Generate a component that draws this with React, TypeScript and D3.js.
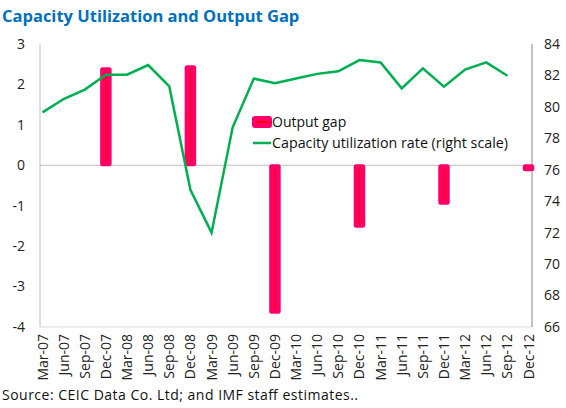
import React from "react";
import * as d3 from "d3";

const categories = ["Mar-07","Jun-07","Sep-07","Dec-07","Mar-08","Jun-08","Sep-08","Dec-08","Mar-09","Jun-09","Sep-09","Dec-09","Mar-10","Jun-10","Sep-10","Dec-10","Mar-11","Jun-11","Sep-11","Dec-11","Mar-12","Jun-12","Sep-12","Dec-12"];
const capacityUtil: (number | null)[] = [79.65,80.5,81.1,82.05,82.05,82.66,81.3,74.73,72.0,78.7,81.8,81.5,81.8,82.1,82.26,82.98,82.83,81.18,82.45,81.29,82.37,82.83,81.98,null];
const outputGap: (number | null)[] = [null,null,null,2.4,null,null,null,2.45,null,null,null,-3.65,null,null,null,-1.52,null,null,null,-0.95,null,null,null,-0.12];
const leftTicks = [3,2,1,0,-1,-2,-3,-4];
const rightTicks = [84,82,80,78,76,74,72,70,68,66];

const W = 566, H = 408;
const PL = 40, PR = 532, PT = 44, PB = 327;
const FONT = "'Open Sans', 'DejaVu Sans', sans-serif";

export default function App() {
  const x = d3.scalePoint<string>().domain(categories).range([42.5, 528.5]);
  const yL = d3.scaleLinear().domain([-4, 3]).range([PB, PT]);
  const yR = d3.scaleLinear().domain([66, 84]).range([PB, PT]);
  const line = d3.line<number | null>()
    .defined(d => d != null)
    .x((_, i) => x(categories[i])!)
    .y(d => yR(d as number));
  const barW = 11.5;
  return (
    <svg width={W} height={H} style={{ position: "absolute", left: 0, top: 0, display: "block", background: "#fff" }}>
      <text x={2} y={22} fill="#0070C0" fontWeight="bold" fontSize={16.5} fontFamily={FONT}>Capacity Utilization and Output Gap</text>
      {/* frame */}
      <line x1={PL} x2={PL} y1={PT} y2={PB} stroke="#BFBFBF" />
      <line x1={PL} x2={PR} y1={PB} y2={PB} stroke="#D9D9D9" />
      <line x1={PR} x2={PR} y1={PT} y2={PB} stroke="#868686" />
      <line x1={PL} x2={PR} y1={yL(0)} y2={yL(0)} stroke="#BFBFBF" />
      {/* left ticks */}
      {leftTicks.map(t => (
        <text key={"l" + t} x={25} y={yL(t)} dy="0.35em" textAnchor="end" fontSize={14} fontFamily={FONT} fill="#222">{t}</text>
      ))}
      {rightTicks.map(t => (
        <text key={"r" + t} x={544} y={yR(t)} dy="0.35em" textAnchor="start" fontSize={14} fontFamily={FONT} fill="#222">{t}</text>
      ))}
      {categories.map(c => (
        <text key={c} transform={`translate(${x(c)! + 5},${PB + 7}) rotate(-90)`} textAnchor="end" fontSize={14} fontFamily={FONT} fill="#222">{c}</text>
      ))}
      {/* bars */}
      {outputGap.map((v, i) => {
        if (v == null) return null;
        const cx = x(categories[i])!;
        const y0 = Math.min(yL(0), yL(v));
        const y1 = Math.max(yL(0), yL(v));
        return (
          <g key={"b" + i}>
            <rect x={cx - barW / 2} y={y0 - 1} width={barW} height={y1 - y0 + 2} rx={2.5} fill="#FF0066" />
            {y1 - y0 > 8 && <line x1={cx} x2={cx} y1={y0 + 3} y2={y1 - 3} stroke="#FF0000" strokeWidth={1.2} />}
          </g>
        );
      })}
      <path d={line(capacityUtil) || ""} fill="none" stroke="#00B050" strokeWidth={2.5} strokeLinejoin="miter" />
      {/* legend */}
      <rect x={252} y={116} width={20} height={12} rx={3} fill="#FF0066" />
      <line x1={256} x2={268} y1={122} y2={122} stroke="#FF0000" strokeWidth={2} />
      <text x={272} y={127} fontSize={14} fontFamily={FONT} fill="#111">Output gap</text>
      <line x1={253} x2={271} y1={143} y2={143} stroke="#00B050" strokeWidth={2.5} />
      <text x={272} y={148} fontSize={14} fontFamily={FONT} fill="#111" textLength={236} lengthAdjust="spacingAndGlyphs">Capacity utilization rate (right scale)</text>
      <text x={2} y={400} fontSize={14} fontFamily={FONT} fill="#111" textLength={356} lengthAdjust="spacing">Source: CEIC Data Co. Ltd; and IMF staff estimates..</text>
    </svg>
  );
}
